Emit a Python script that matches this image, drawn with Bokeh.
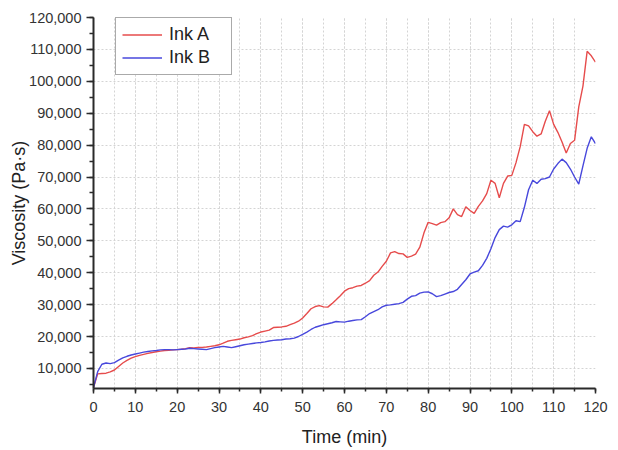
from bokeh.plotting import figure
from bokeh.models import Range1d, SingleIntervalTicker, NumeralTickFormatter, Legend, LegendItem
from bokeh.embed import file_html
from bokeh.resources import INLINE

time_min = list(range(0, 121))

ink_a = [
    4000, 8300, 8400, 8500, 8900, 9500, 10600, 11700, 12500, 13200,
    13700, 14100, 14400, 14700, 15000, 15200, 15400, 15600, 15700, 15800,
    15900, 16000, 16200, 16500, 16400, 16600, 16600, 16700, 16900, 17100,
    17400, 17900, 18500, 18800, 19000, 19200, 19600, 19900, 20300, 20900,
    21400, 21700, 22000, 22800, 22900, 23000, 23200, 23700, 24200, 24800,
    25800, 27200, 28700, 29400, 29700, 29300, 29200, 30300, 31500, 32800,
    34200, 35000, 35300, 35800, 36000, 36700, 37500, 39200, 40200, 42000,
    43600, 46200, 46600, 46000, 45900, 44800, 45200, 45800, 48000, 52500,
    55800, 55400, 54900, 55700, 56000, 57200, 60000, 58200, 57600, 60700,
    59500, 58600, 60800, 62500, 64800, 69000, 68000, 63500, 68000, 70300,
    70500, 74500, 79500, 86500, 86000, 84200, 82800, 83500, 87500, 90800,
    86500, 84000, 81000, 77500, 80500, 81500, 92000, 98500, 109400, 108000,
    106000,
]

ink_b = [
    4000, 9000, 11300, 11700, 11500, 11800, 12600, 13300, 13800, 14200,
    14500, 14800, 15100, 15300, 15500, 15600, 15800, 15900, 15900, 15800,
    15900, 16000, 16100, 16300, 16200, 16100, 16000, 15900, 16200, 16500,
    16700, 16900, 16700, 16500, 16800, 17100, 17400, 17600, 17800, 18000,
    18100, 18300, 18600, 18800, 18900, 19000, 19200, 19300, 19500, 20000,
    20700, 21400, 22200, 22900, 23300, 23700, 24000, 24300, 24700, 24600,
    24500, 24800, 25000, 25200, 25300, 26200, 27200, 27800, 28400, 29300,
    29800, 29900, 30100, 30300, 30700, 31700, 32600, 32800, 33600, 33900,
    34000, 33400, 32500, 32800, 33300, 33800, 34100, 34800, 36300, 37800,
    39600, 40200, 40600, 42300, 44500, 47500, 51000, 53500, 54600, 54300,
    55000, 56300, 56000, 60500, 66000, 69000, 68000, 69300, 69500, 70000,
    72500, 74200, 75600, 74500, 72500, 70000, 67800, 73500, 79000, 82600,
    80500,
]

series_names = ["Ink A", "Ink B"]
series_colors = ["#e64c4c", "#4848dc"]

FONT = "Liberation Sans"

p = figure(
    width=618, height=450,
    output_backend="svg", toolbar_location=None,
    x_range=Range1d(0, 120), y_range=Range1d(3700, 120000),
    min_border_left=93, min_border_right=23, min_border_top=17, min_border_bottom=62,
)
p.outline_line_color = None
p.background_fill_color = "white"
p.border_fill_color = "white"

r_a = p.line(time_min, ink_a, line_color=series_colors[0], line_width=1.4)
r_b = p.line(time_min, ink_b, line_color=series_colors[1], line_width=1.4)

p.xaxis.ticker = SingleIntervalTicker(interval=10, num_minor_ticks=2)
p.yaxis.ticker = SingleIntervalTicker(interval=10000, num_minor_ticks=2)
p.yaxis.formatter = NumeralTickFormatter(format="0,0")

for ax in (p.xaxis[0], p.yaxis[0]):
    ax.axis_line_color = "#2a2a2a"
    ax.axis_line_width = 2
    ax.major_tick_line_color = "#2a2a2a"
    ax.major_tick_line_width = 1.5
    ax.minor_tick_line_color = "#2a2a2a"
    ax.minor_tick_line_width = 1.5
    ax.major_tick_in = 0
    ax.minor_tick_in = 0
    ax.major_label_text_font = FONT
    ax.major_label_text_font_size = "14.5px"
    ax.major_label_text_color = "#333333"
    ax.axis_label_text_font = FONT
    ax.axis_label_text_font_size = "18px"
    ax.axis_label_text_font_style = "normal"
    ax.axis_label_text_color = "#222222"

p.xaxis.major_tick_out = 5
p.xaxis.minor_tick_out = 3
p.yaxis.major_tick_out = 7
p.yaxis.minor_tick_out = 4
p.xaxis.major_label_standoff = 8
p.yaxis.major_label_standoff = 5
p.xaxis.axis_label_standoff = 12
p.yaxis.axis_label_standoff = -3
p.xaxis.axis_label = "Time (min)"
p.yaxis.axis_label = "Viscosity (Pa·s)"

p.xgrid.grid_line_color = "#d4d4d4"
p.xgrid.grid_line_dash = "2 2"
p.xgrid.minor_grid_line_color = "#d4d4d4"
p.xgrid.minor_grid_line_dash = "2 2"
p.ygrid.grid_line_color = "#d4d4d4"
p.ygrid.grid_line_dash = "2 2"

legend = Legend(
    items=[LegendItem(label=series_names[0], renderers=[r_a]),
           LegendItem(label=series_names[1], renderers=[r_b])],
    location=(22, 313),
    label_text_font=FONT, label_text_font_size="18px", label_text_color="#222222",
    glyph_width=40, glyph_height=17, label_height=17, label_standoff=7,
    spacing=2, padding=6, label_width=56,
    border_line_color="#555555", border_line_width=1,
    background_fill_color="white", background_fill_alpha=1,
)
p.add_layout(legend, "center")

open("out.html", "w").write(file_html(p, INLINE))
